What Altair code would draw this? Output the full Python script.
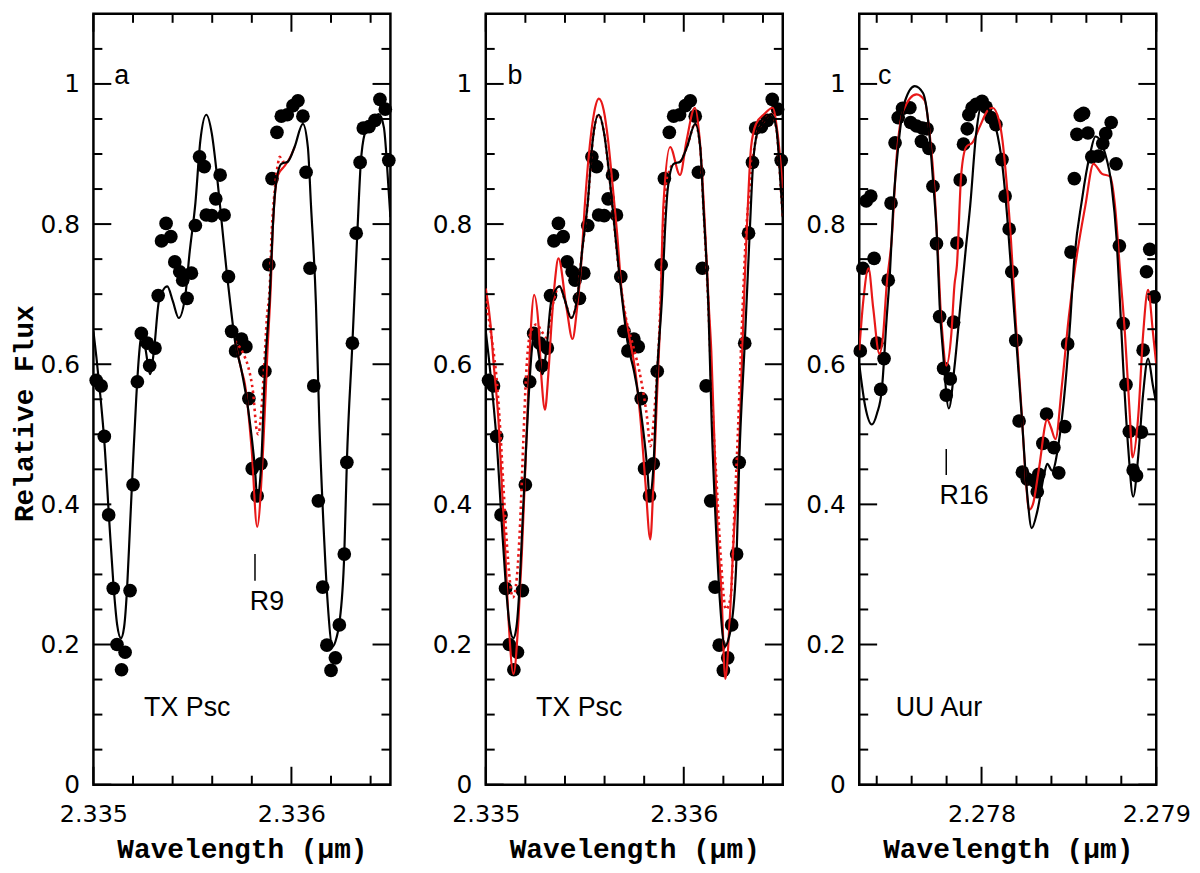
import altair as alt
import pandas as pd

W, H = 299, 776

# observed spectrum of TX Psc (panels a and b), (wavelength, flux)
tx_obs = [
    (2.335014, 0.577), (2.335039, 0.569), (2.335055, 0.497), (2.335077, 0.385),
    (2.335100, 0.280), (2.335119, 0.200), (2.335142, 0.164), (2.335160, 0.189),
    (2.335185, 0.277), (2.335200, 0.428), (2.335222, 0.575), (2.335242, 0.644),
    (2.335272, 0.630), (2.335284, 0.598), (2.335311, 0.623), (2.335327, 0.698),
    (2.335344, 0.776), (2.335367, 0.801), (2.335391, 0.782), (2.335411, 0.746),
    (2.335436, 0.732), (2.335451, 0.720), (2.335473, 0.694), (2.335495, 0.730),
    (2.335515, 0.798), (2.335536, 0.896), (2.335560, 0.882), (2.335570, 0.813),
    (2.335598, 0.812), (2.335618, 0.836), (2.335640, 0.870), (2.335660, 0.813),
    (2.335682, 0.725), (2.335698, 0.647), (2.335718, 0.619), (2.335748, 0.636),
    (2.335770, 0.625), (2.335785, 0.551), (2.335802, 0.451), (2.335827, 0.412),
    (2.335846, 0.458), (2.335866, 0.590), (2.335886, 0.742), (2.335902, 0.865),
    (2.335927, 0.931), (2.335949, 0.954), (2.335979, 0.956), (2.336008, 0.969),
    (2.336033, 0.976), (2.336058, 0.954), (2.336074, 0.874), (2.336094, 0.737),
    (2.336113, 0.569), (2.336136, 0.405), (2.336158, 0.282), (2.336179, 0.199),
    (2.336200, 0.163), (2.336222, 0.181), (2.336242, 0.228), (2.336267, 0.329),
    (2.336280, 0.460), (2.336308, 0.630), (2.336327, 0.787), (2.336347, 0.888),
    (2.336363, 0.937), (2.336392, 0.939), (2.336422, 0.948), (2.336447, 0.978),
    (2.336474, 0.964), (2.336492, 0.891),
]

# black model for TX Psc (same in a and b)
tx_black = [
    (2.335000, 0.647), (2.335015, 0.610), (2.335035, 0.555), (2.335055, 0.490),
    (2.335080, 0.376), (2.335100, 0.290), (2.335120, 0.228), (2.335139, 0.209),
    (2.335155, 0.225), (2.335170, 0.280), (2.335185, 0.370), (2.335200, 0.460),
    (2.335216, 0.550), (2.335231, 0.615), (2.335243, 0.643), (2.335261, 0.625),
    (2.335286, 0.586), (2.335306, 0.620), (2.335331, 0.690), (2.335373, 0.711),
    (2.335401, 0.690), (2.335431, 0.666), (2.335465, 0.700), (2.335486, 0.760),
    (2.335515, 0.830), (2.335540, 0.919), (2.335570, 0.956), (2.335598, 0.929),
    (2.335623, 0.872), (2.335648, 0.802), (2.335673, 0.732), (2.335692, 0.685),
    (2.335715, 0.633), (2.335748, 0.591), (2.335782, 0.535), (2.335816, 0.450),
    (2.335827, 0.411), (2.335846, 0.450), (2.335866, 0.590), (2.335891, 0.700),
    (2.335905, 0.790), (2.335919, 0.850), (2.335949, 0.886), (2.335982, 0.889),
    (2.336016, 0.910), (2.336058, 0.943), (2.336083, 0.910), (2.336099, 0.826),
    (2.336124, 0.685), (2.336141, 0.516), (2.336166, 0.347), (2.336183, 0.260),
    (2.336208, 0.197), (2.336228, 0.210), (2.336242, 0.230), (2.336267, 0.329),
    (2.336280, 0.460), (2.336308, 0.630), (2.336333, 0.788), (2.336350, 0.886),
    (2.336370, 0.929), (2.336400, 0.945), (2.336442, 0.957), (2.336467, 0.938),
    (2.336492, 0.844), (2.336500, 0.810),
]

# panel a: red models differ only around R9
a_red = [
    (2.335715, 0.633), (2.335748, 0.591), (2.335765, 0.572), (2.335799, 0.479),
    (2.335827, 0.368), (2.335857, 0.479), (2.335879, 0.619), (2.335896, 0.713),
    (2.335907, 0.800), (2.335932, 0.870), (2.335966, 0.883), (2.335993, 0.895),
    (2.336016, 0.910),
]
a_red_dot = [
    (2.335715, 0.633), (2.335757, 0.615), (2.335782, 0.596), (2.335807, 0.558),
    (2.335824, 0.507), (2.335832, 0.500), (2.335846, 0.526), (2.335862, 0.596),
    (2.335876, 0.666), (2.335891, 0.713), (2.335899, 0.779), (2.335916, 0.849),
    (2.335932, 0.886), (2.335941, 0.896), (2.335957, 0.889), (2.335982, 0.889),
]

# panel b red models
b_red = [
    (2.335000, 0.708), (2.335024, 0.657), (2.335040, 0.600), (2.335065, 0.516),
    (2.335082, 0.422), (2.335099, 0.329), (2.335115, 0.235), (2.335140, 0.158),
    (2.335165, 0.235), (2.335182, 0.329), (2.335199, 0.446), (2.335216, 0.572),
    (2.335229, 0.657), (2.335244, 0.699), (2.335266, 0.657), (2.335282, 0.577),
    (2.335299, 0.535), (2.335316, 0.586), (2.335332, 0.657), (2.335349, 0.718),
    (2.335367, 0.751), (2.335408, 0.680), (2.335438, 0.636), (2.335461, 0.680),
    (2.335481, 0.740), (2.335501, 0.830), (2.335521, 0.900), (2.335546, 0.957),
    (2.335571, 0.979), (2.335596, 0.962), (2.335618, 0.919), (2.335638, 0.863),
    (2.335663, 0.788), (2.335688, 0.699), (2.335722, 0.643), (2.335755, 0.591),
    (2.335780, 0.526), (2.335806, 0.432), (2.335831, 0.350), (2.335847, 0.432),
    (2.335864, 0.549), (2.335881, 0.666), (2.335897, 0.826), (2.335931, 0.910),
    (2.335981, 0.870), (2.336014, 0.919), (2.336056, 0.966), (2.336081, 0.919),
    (2.336106, 0.802), (2.336126, 0.685), (2.336139, 0.619), (2.336156, 0.479),
    (2.336173, 0.347), (2.336189, 0.282), (2.336210, 0.151), (2.336232, 0.235),
    (2.336257, 0.376), (2.336273, 0.432), (2.336290, 0.572), (2.336307, 0.713),
    (2.336320, 0.802), (2.336340, 0.910), (2.336365, 0.943), (2.336407, 0.957),
    (2.336449, 0.966), (2.336474, 0.929), (2.336500, 0.851),
]
b_red_dot = [
    (2.335000, 0.690), (2.335032, 0.633), (2.335057, 0.572), (2.335074, 0.502),
    (2.335090, 0.422), (2.335107, 0.342), (2.335137, 0.267), (2.335157, 0.296),
    (2.335174, 0.376), (2.335190, 0.493), (2.335204, 0.586), (2.335224, 0.643),
    (2.335257, 0.657), (2.335282, 0.647), (2.335307, 0.638), (2.335332, 0.676),
    (2.335357, 0.705), (2.335373, 0.711), (2.335401, 0.690), (2.335431, 0.666),
    (2.335465, 0.700), (2.335486, 0.760), (2.335515, 0.830), (2.335540, 0.919),
    (2.335570, 0.956), (2.335598, 0.929), (2.335623, 0.872), (2.335648, 0.802),
    (2.335673, 0.732), (2.335688, 0.700), (2.335712, 0.660), (2.335738, 0.633),
    (2.335788, 0.572), (2.335814, 0.525), (2.335831, 0.483), (2.335856, 0.549),
    (2.335872, 0.619), (2.335886, 0.713), (2.335899, 0.816), (2.335919, 0.868),
    (2.335949, 0.886), (2.335982, 0.889), (2.336016, 0.910), (2.336058, 0.943),
    (2.336083, 0.910), (2.336099, 0.826), (2.336124, 0.685), (2.336143, 0.550),
    (2.336168, 0.420), (2.336188, 0.320), (2.336213, 0.250), (2.336238, 0.270),
    (2.336253, 0.370), (2.336273, 0.500), (2.336293, 0.650), (2.336313, 0.780),
    (2.336333, 0.850), (2.336370, 0.929), (2.336400, 0.945), (2.336442, 0.957),
    (2.336467, 0.938), (2.336492, 0.844), (2.336500, 0.810),
]

# UU Aur (panel c)
uu_obs = [
    (2.277306, 0.619), (2.277321, 0.737), (2.277340, 0.833), (2.277366, 0.840),
    (2.277385, 0.751), (2.277401, 0.630), (2.277423, 0.564), (2.277442, 0.608),
    (2.277466, 0.720), (2.277482, 0.830), (2.277505, 0.916), (2.277523, 0.952),
    (2.277548, 0.965), (2.277590, 0.966), (2.277594, 0.945), (2.277628, 0.940),
    (2.277656, 0.918), (2.277662, 0.937), (2.277688, 0.936), (2.277699, 0.908),
    (2.277722, 0.854), (2.277742, 0.772), (2.277760, 0.668), (2.277783, 0.594),
    (2.277798, 0.556), (2.277821, 0.579), (2.277840, 0.660), (2.277859, 0.773),
    (2.277878, 0.863), (2.277897, 0.914), (2.277918, 0.936), (2.277927, 0.956),
    (2.277946, 0.966), (2.277969, 0.971), (2.278003, 0.975), (2.278026, 0.967),
    (2.278054, 0.952), (2.278082, 0.942), (2.278117, 0.892), (2.278135, 0.840),
    (2.278158, 0.793), (2.278173, 0.732), (2.278196, 0.634), (2.278215, 0.519),
    (2.278234, 0.446), (2.278262, 0.436), (2.278310, 0.432), (2.278319, 0.418),
    (2.278328, 0.443), (2.278351, 0.487), (2.278372, 0.529), (2.278414, 0.481),
    (2.278442, 0.445), (2.278476, 0.511), (2.278493, 0.629), (2.278512, 0.760),
    (2.278531, 0.865), (2.278546, 0.928), (2.278565, 0.955), (2.278584, 0.958),
    (2.278609, 0.930), (2.278631, 0.896), (2.278669, 0.897), (2.278694, 0.915),
    (2.278711, 0.929), (2.278742, 0.945), (2.278770, 0.886), (2.278789, 0.769),
    (2.278811, 0.658), (2.278827, 0.571), (2.278846, 0.504), (2.278868, 0.449),
    (2.278887, 0.441), (2.278915, 0.503), (2.278925, 0.620), (2.278944, 0.732),
    (2.278963, 0.764), (2.278988, 0.696),
]
uu_black = [
    (2.277300, 0.600), (2.277334, 0.540), (2.277372, 0.514), (2.277402, 0.530),
    (2.277429, 0.563), (2.277457, 0.666), (2.277476, 0.732), (2.277495, 0.826),
    (2.277523, 0.910), (2.277561, 0.975), (2.277618, 0.997), (2.277665, 0.987),
    (2.277694, 0.948), (2.277722, 0.863), (2.277745, 0.779), (2.277760, 0.685),
    (2.277779, 0.619), (2.277813, 0.537), (2.277845, 0.596), (2.277880, 0.687),
    (2.277908, 0.760), (2.277935, 0.826), (2.277969, 0.929), (2.278003, 0.972),
    (2.278044, 0.962), (2.278082, 0.938), (2.278120, 0.882), (2.278148, 0.807),
    (2.278177, 0.708), (2.278196, 0.643), (2.278230, 0.526), (2.278262, 0.413),
    (2.278287, 0.366), (2.278319, 0.390), (2.278357, 0.441), (2.278376, 0.458),
    (2.278404, 0.448), (2.278442, 0.488), (2.278480, 0.572), (2.278509, 0.666),
    (2.278527, 0.737), (2.278575, 0.835), (2.278622, 0.901), (2.278652, 0.925),
    (2.278707, 0.901), (2.278745, 0.854), (2.278773, 0.779), (2.278793, 0.685),
    (2.278811, 0.596), (2.278840, 0.479), (2.278868, 0.411), (2.278897, 0.469),
    (2.278925, 0.558), (2.278953, 0.608), (2.278982, 0.568), (2.279000, 0.544),
]
uu_red = [
    (2.277300, 0.620), (2.277323, 0.690), (2.277353, 0.737), (2.277380, 0.680),
    (2.277415, 0.615), (2.277436, 0.640), (2.277457, 0.713), (2.277486, 0.779),
    (2.277514, 0.896), (2.277552, 0.962), (2.277628, 0.985), (2.277675, 0.976),
    (2.277703, 0.929), (2.277732, 0.844), (2.277751, 0.755), (2.277764, 0.685),
    (2.277776, 0.643), (2.277798, 0.598), (2.277827, 0.643), (2.277845, 0.713),
    (2.277859, 0.741), (2.277884, 0.872), (2.277912, 0.910), (2.277950, 0.917),
    (2.277988, 0.938), (2.278035, 0.962), (2.278063, 0.966), (2.278101, 0.947),
    (2.278120, 0.919), (2.278139, 0.872), (2.278168, 0.779), (2.278196, 0.660),
    (2.278230, 0.530), (2.278255, 0.430), (2.278272, 0.392), (2.278294, 0.400),
    (2.278328, 0.450), (2.278376, 0.521), (2.278397, 0.510), (2.278423, 0.493),
    (2.278461, 0.572), (2.278499, 0.666), (2.278537, 0.741), (2.278594, 0.826),
    (2.278641, 0.886), (2.278688, 0.872), (2.278736, 0.868), (2.278764, 0.826),
    (2.278793, 0.732), (2.278821, 0.643), (2.278849, 0.526), (2.278864, 0.467),
    (2.278897, 0.526), (2.278925, 0.643), (2.278953, 0.706), (2.278982, 0.643),
    (2.279000, 0.600),
]

# text annotations (wavelength, flux, text)
a_notes = [(2.335105, 1.0, "a"), (2.335256, 0.098, "TX Psc"), (2.335790, 0.249, "R9")]
b_notes = [(2.335110, 1.0, "b"), (2.335254, 0.098, "TX Psc")]
c_notes = [(2.277408, 1.0, "c"), (2.277509, 0.098, "UU Aur"), (2.277760, 0.400, "R16")]
a_marker = [(2.335816, 0.291, 0.329)]
c_marker = [(2.277798, 0.442, 0.479)]

# axis ticks
y_labels = [0, 0.2, 0.4, 0.6, 0.8, 1.0]
y_minor = [0.05, 0.1, 0.15, 0.25, 0.3, 0.35, 0.45, 0.5, 0.55, 0.65, 0.7,
           0.75, 0.85, 0.9, 0.95, 1.05]
tx_labels = [2.335, 2.336]
tx_minor = [2.3352, 2.3354, 2.3356, 2.3358, 2.3362, 2.3364]
uu_labels = [2.278, 2.279]
uu_minor = [2.2774, 2.2776, 2.2778, 2.2782, 2.2784, 2.2786, 2.2788]

RED = "#e81818"


def pts(pairs):
    return pd.DataFrame(pairs, columns=["wl", "flux"])


def panel(x_dom, x_labels, x_minor, obs, black, red, red_dot, notes, marker, ytitle):
    xs = alt.Scale(domain=x_dom, nice=False, zero=False)
    ys = alt.Scale(domain=[0, 1.1], nice=False, zero=False)
    xaxis = alt.Axis(values=x_labels, format=".3f", ticks=False, domain=False,
                     grid=False, labelFlush=False, labelFont="DejaVu Sans",
                     labelFontSize=24, labelColor="black", labelPadding=18,
                     title="Wavelength (μm)", titleFont="Liberation Mono",
                     titleFontWeight="bold", titleFontSize=28, titleColor="black",
                     titleY=73, titleBaseline="alphabetic")
    yaxis = alt.Axis(values=y_labels, format=".1~f", ticks=False, domain=False,
                     grid=False, labelFlush=False, labelFont="DejaVu Sans",
                     labelFontSize=25, labelColor="black", labelPadding=14,
                     title=ytitle, titleFont="Liberation Mono",
                     titleFontWeight="bold", titleFontSize=28, titleColor="black",
                     titlePadding=2, titleY=402)
    # every layer carries the same axis definition so the merge keeps it
    X = lambda: alt.X("wl:Q", scale=xs, axis=xaxis)
    Y = lambda: alt.Y("flux:Q", scale=ys, axis=yaxis)

    layers = [
        alt.Chart(pts(obs)).mark_circle(size=190, color="black", opacity=1).encode(
            x=X(), y=Y())
    ]
    if red_dot:
        layers.append(alt.Chart(pts(red_dot)).mark_line(
            color=RED, strokeWidth=2.6, strokeDash=[2.5, 3.5],
            interpolate="monotone", clip=True).encode(x=X(), y=Y()))
    layers.append(alt.Chart(pts(red)).mark_line(
        color=RED, strokeWidth=2.2, interpolate="monotone", clip=True
    ).encode(x=X(), y=Y()))
    layers.append(alt.Chart(pts(black)).mark_line(
        color="black", strokeWidth=2.2, interpolate="monotone", clip=True
    ).encode(x=X(), y=Y()))

    notes_df = pd.DataFrame(notes, columns=["wl", "flux", "label"])
    layers.append(alt.Chart(notes_df).mark_text(
        align="left", baseline="alphabetic", font="Liberation Sans",
        fontSize=27, color="black").encode(x=X(), y=Y(), text="label:N"))
    if marker:
        mk = pd.DataFrame(marker, columns=["wl", "flux", "flux2"])
        layers.append(alt.Chart(mk).mark_rule(color="black", strokeWidth=1.5).encode(
            x=X(), y=Y(), y2="flux2:Q"))

    # inward ticks on all four sides
    for vals, length in [(y_labels, 18), (y_minor, 9)]:
        d = pd.DataFrame({"flux": vals})
        layers.append(alt.Chart(d).mark_rule(color="black", strokeWidth=2).encode(
            y=Y(), x=alt.value(0), x2=alt.value(length)))
        layers.append(alt.Chart(d).mark_rule(color="black", strokeWidth=2).encode(
            y=Y(), x=alt.value(W - length), x2=alt.value(W)))
    for vals, length in [(x_labels, 18), (x_minor, 9)]:
        d = pd.DataFrame({"wl": vals})
        layers.append(alt.Chart(d).mark_rule(color="black", strokeWidth=2).encode(
            x=X(), y=alt.value(H), y2=alt.value(H - length)))
        layers.append(alt.Chart(d).mark_rule(color="black", strokeWidth=2).encode(
            x=X(), y=alt.value(0), y2=alt.value(length)))

    return alt.layer(*layers).properties(width=W, height=H)


pa = panel([2.335, 2.3365], tx_labels, tx_minor, tx_obs, tx_black, a_red, a_red_dot,
           a_notes, a_marker, "Relative Flux")
pb = panel([2.335, 2.3365], tx_labels, tx_minor, tx_obs, tx_black, b_red, b_red_dot,
           b_notes, None, None)
pc = panel([2.2773, 2.279], uu_labels, uu_minor, uu_obs, uu_black, uu_red, None,
           c_notes, c_marker, None)

chart = alt.hconcat(alt.hconcat(pa, pb, spacing=33), pc, spacing=14).properties(
    padding={"left": 0, "top": 0, "right": 0, "bottom": 0}, background="white"
).configure_view(stroke="black", strokeWidth=2.5)

chart.save("out.html", embed_options={"renderer": "svg", "actions": False})
